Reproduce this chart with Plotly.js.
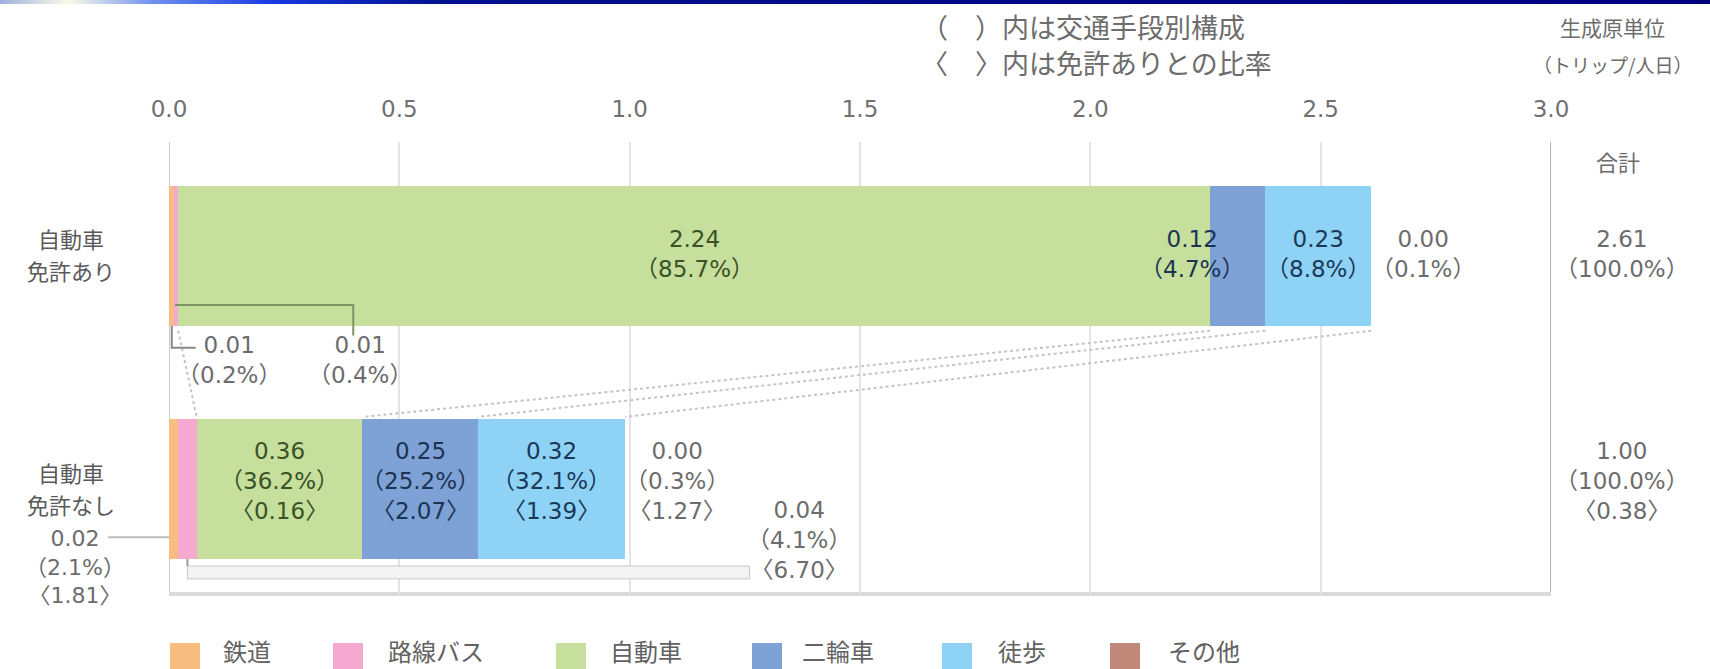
<!DOCTYPE html>
<html>
<head>
<meta charset="utf-8">
<script src="https://cdn.plot.ly/plotly-3.0.1.min.js"></script>
<style>
  html, body { margin: 0; padding: 0; background: #fff; }
  #topbar { position: absolute; left: 0; top: 0; width: 1710px; height: 4px; z-index: 10;
    background: linear-gradient(to right, #9fb0de 0%, #fbfbe8 4%, #6d8ff0 9%, #1838e0 16%, #00108f 26%, #00007f 100%); }
  #chart { width: 1710px; height: 669px; }
</style>
</head>
<body>
<div id="topbar"></div>
<div id="chart"></div>
<script>
// ---- data ----
const modes = ['鉄道', '路線バス', '自動車', '二輪車', '徒歩', 'その他'];
const categories = [['自動車', '免許あり'], ['自動車', '免許なし']];
const withLicense = [0.01, 0.01, 2.24, 0.12, 0.23, 0.00];
const withLicensePct = [0.2, 0.4, 85.7, 4.7, 8.8, 0.1];
const noLicense = [0.02, 0.04, 0.36, 0.25, 0.32, 0.00];
const noLicensePct = [2.1, 4.1, 36.2, 25.2, 32.1, 0.3];
const noLicenseRatio = [1.81, 6.70, 0.16, 2.07, 1.39, 1.27];
const totals = [2.61, 1.00];
const totalPct = [100.0, 100.0];
const totalRatio = 0.38;
const xTicks = [0, 0.5, 1.0, 1.5, 2.0, 2.5, 3.0];
const headerLeft = ['（　）内は交通手段別構成', '〈　〉内は免許ありとの比率'];
const headerRight = ['生成原単位', '（トリップ/人日）'];
const totalHeader = '合計';

// ---- styles ----
const colors = ['#f6bc80', '#f5a9d1', '#c6df9c', '#7fa2d6', '#8ed3f6', '#c08878'];
const FONT = '"DejaVu Sans", "Noto Sans CJK JP", sans-serif';
const JFONT = '"Noto Sans CJK JP", "DejaVu Sans", sans-serif';
const grayText = '#6c6c6c';
const inTextColor = ['#555', '#555', '#3a5226', '#1b3454', '#1b3858', '#555'];
const Y_TOP = 1, Y_BOT = 0, BAR_W = 0.6;

const traces = modes.map((m, i) => ({
  type: 'bar', orientation: 'h', name: m,
  x: [withLicense[i], noLicense[i]], y: [Y_TOP, Y_BOT],
  width: BAR_W, marker: { color: colors[i], line: { width: 0 } },
  hoverinfo: 'skip', showlegend: false
}));

function cum(arr) { const s = [0]; arr.forEach(v => s.push(s[s.length - 1] + v)); return s; }
const cTop = cum(withLicense), cBot = cum(noLicense);

const ann = [];
const shapes = [];
function A(o) { ann.push(Object.assign({ showarrow: false, xanchor: 'center', yanchor: 'middle' }, o)); }
const lblTop = i => withLicense[i].toFixed(2) + '<br>（' + withLicensePct[i].toFixed(1) + '%）';
const lblBot = i => noLicense[i].toFixed(2) + '<br>（' + noLicensePct[i].toFixed(1) + '%）<br>〈' + noLicenseRatio[i].toFixed(2) + '〉';

// bar labels (inside)
[2, 3, 4].forEach(i => {
  A({ x: (cTop[i] + cTop[i + 1]) / 2, y: Y_TOP, xref: 'x', yref: 'y', text: lblTop(i),
    font: { family: FONT, size: 23, color: inTextColor[i] }, xshift: i === 3 ? -46 : 0, yshift: 2 });
  A({ x: (cBot[i] + cBot[i + 1]) / 2, y: Y_BOT, xref: 'x', yref: 'y', text: lblBot(i),
    font: { family: FONT, size: 23, color: inTextColor[i] }, yshift: 8 });
});
// その他 (right of bar end)
A({ x: cTop[6], y: Y_TOP, xref: 'x', yref: 'y', xanchor: 'left', text: lblTop(5),
  font: { family: FONT, size: 23, color: grayText }, xshift: -2, yshift: 2 });
A({ x: cBot[6], y: Y_BOT, xref: 'x', yref: 'y', xanchor: 'left', text: lblBot(5),
  font: { family: FONT, size: 23, color: grayText }, xshift: -2, yshift: 8 });

// small segments of top bar (below bar)
const topSmallPos = [[0.13, 0.555], [0.414, 0.555]];
[0, 1].forEach(i => {
  A({ x: topSmallPos[i][0], y: topSmallPos[i][1], xref: 'x', yref: 'y', text: lblTop(i),
    font: { family: FONT, size: 23, color: grayText } });
});
// small segments of bottom bar
A({ x: -0.068, y: -0.335, xref: 'paper', yref: 'y', text: lblBot(0),
  font: { family: FONT, size: 22, color: grayText } });
A({ x: 1.368, y: -0.22, xref: 'x', yref: 'y', text: lblBot(1),
  font: { family: FONT, size: 23, color: grayText } });

// category labels (one annotation per line)
[Y_TOP, Y_BOT].forEach((yy, k) => {
  categories[k].forEach((line, j) => {
    A({ x: -0.071, y: yy, xref: 'paper', yref: 'y', text: line,
      font: { family: JFONT, size: 22, color: '#5a5a5a' }, yshift: (k === 0 ? 18 : 17) - j * 32 });
  });
});

// totals
A({ x: 1.0515, y: Y_TOP, xref: 'paper', yref: 'y',
  text: totals[0].toFixed(2) + '<br>（' + totalPct[0].toFixed(1) + '%）',
  font: { family: FONT, size: 23, color: grayText }, yshift: 2 });
A({ x: 1.0515, y: Y_BOT, xref: 'paper', yref: 'y',
  text: totals[1].toFixed(2) + '<br>（' + totalPct[1].toFixed(1) + '%）<br>〈' + totalRatio.toFixed(2) + '〉',
  font: { family: FONT, size: 23, color: grayText }, yshift: 8 });
A({ x: 1.0485, y: 0.958, xref: 'paper', yref: 'paper', text: totalHeader,
  font: { family: JFONT, size: 22, color: grayText } });

// headers
A({ x: 1.0445, y: 1.254, xref: 'paper', yref: 'paper', text: headerRight[0],
  font: { family: JFONT, size: 21, color: grayText } });
A({ x: 1.0445, y: 1.172, xref: 'paper', yref: 'paper', text: headerRight[1],
  font: { family: JFONT, size: 19, color: grayText } });
A({ x: 0.5427, y: 1.256, xref: 'paper', yref: 'paper', xanchor: 'left', text: headerLeft[0],
  font: { family: JFONT, size: 27, color: grayText } });
A({ x: 0.5427, y: 1.176, xref: 'paper', yref: 'paper', xanchor: 'left', text: headerLeft[1],
  font: { family: JFONT, size: 27, color: grayText } });

// frame lines
shapes.push({ type: 'line', xref: 'x', yref: 'paper', x0: 0, x1: 0, y0: 0, y1: 1, line: { color: '#cfcfcf', width: 2 }, layer: 'below' });
shapes.push({ type: 'line', xref: 'x', yref: 'paper', x0: 3, x1: 3, y0: 0, y1: 1, line: { color: '#b0b0b0', width: 2 }, layer: 'below' });
shapes.push({ type: 'line', xref: 'x', yref: 'paper', x0: 0, x1: 3, y0: 0, y1: 0, line: { color: '#dadada', width: 4 }, layer: 'below' });

// dotted connectors between the two bars
[2, 3, 4, 5].forEach(k => {
  shapes.push({ type: 'line', xref: 'x', yref: 'y', x0: cTop[k], y0: Y_TOP - BAR_W / 2 - 0.02,
    x1: cBot[k], y1: Y_BOT + BAR_W / 2 + 0.01, line: { color: '#c4c4c4', width: 2, dash: 'dot' } });
});

// leader lines
shapes.push({ type: 'path', xref: 'x', yref: 'y',
  path: 'M 0.013 0.79 L 0.40 0.79 L 0.40 0.66', line: { color: '#7d9464', width: 2 } });
shapes.push({ type: 'path', xref: 'x', yref: 'y',
  path: 'M 0.006 0.70 L 0.006 0.607 L 0.058 0.607', line: { color: '#888', width: 2 } });
shapes.push({ type: 'line', xref: 'paper', yref: 'y', x0: -0.044, x1: 0, y0: -0.206, y1: -0.206,
  line: { color: '#bbb', width: 2 } });
const pinkMid = (cBot[1] + cBot[2]) / 2;
shapes.push({ type: 'rect', xref: 'x', yref: 'y', x0: pinkMid, x1: 1.26, y0: -0.385, y1: -0.33,
  fillcolor: '#f4f4f4', line: { color: '#c8c8c8', width: 1 } });
shapes.push({ type: 'line', xref: 'x', yref: 'y', x0: pinkMid, x1: pinkMid, y0: -0.3, y1: -0.33,
  line: { color: '#999', width: 2 } });

// custom legend
const legSwatchX = [170, 333, 556, 752, 942, 1110];
const legTextX = [221, 386, 608, 800, 996, 1166];
const L = 169, PW = 1382, T = 142, PH = 452;
modes.forEach((m, i) => {
  shapes.push({ type: 'rect', xref: 'paper', yref: 'paper',
    x0: (legSwatchX[i] - L) / PW, x1: (legSwatchX[i] + 30 - L) / PW,
    y0: (T + PH - 643) / PH, y1: (T + PH - 690) / PH,
    fillcolor: colors[i], line: { width: 0 } });
  A({ x: (legTextX[i] - L) / PW, y: (T + PH - 650) / PH, xref: 'paper', yref: 'paper',
    xanchor: 'left', text: m, font: { family: JFONT, size: 24, color: '#626262' } });
});

const layout = {
  width: 1710, height: 669,
  margin: { l: 169, r: 159, t: 142, b: 75, pad: 0 },
  paper_bgcolor: '#ffffff', plot_bgcolor: '#ffffff',
  barmode: 'stack', bargap: 0,
  xaxis: { range: [0, 3.0], side: 'top', tickvals: xTicks, ticktext: xTicks.map(v => v.toFixed(1)),
    showgrid: true, gridcolor: '#e4e4e4', gridwidth: 2, zeroline: false, showline: false, ticks: '',
    ticklabelstandoff: 19, tickfont: { family: FONT, size: 23, color: '#707070' }, fixedrange: true },
  yaxis: { range: [-0.45, 1.49], showticklabels: false, showgrid: false, zeroline: false, showline: false, fixedrange: true },
  annotations: ann, shapes: shapes, showlegend: false
};

Plotly.newPlot('chart', traces, layout, { displayModeBar: false, staticPlot: true });
</script>
</body>
</html>
